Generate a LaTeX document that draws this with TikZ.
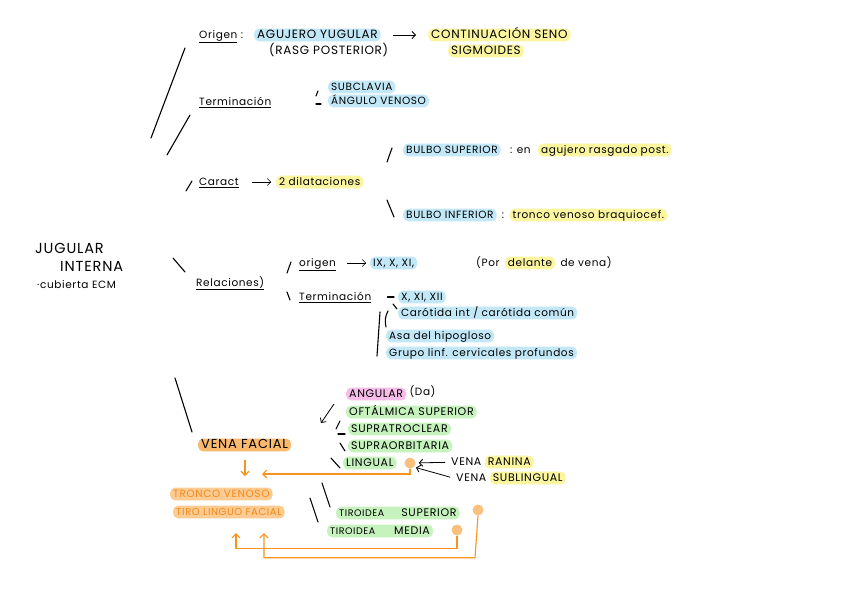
\documentclass[tikz,border=0pt]{standalone}
\usepackage{fontspec}
\setmainfont{Poppins}[LetterSpace=6]
\usetikzlibrary{arrows.meta,positioning,calc}
\definecolor{cblue}{HTML}{C2E8F8}
\definecolor{cyel}{HTML}{FBF5A0}
\definecolor{cgreen}{HTML}{C6F3BD}
\definecolor{cpink}{HTML}{F7BDEA}
\definecolor{corange}{HTML}{F9B96E}
\definecolor{clight}{HTML}{FCCB92}
\definecolor{ctext}{HTML}{F28A1E}
\definecolor{cline}{HTML}{F7941D}
\definecolor{cdot}{HTML}{F9C07E}
\tikzset{
  lbl/.style={inner xsep=3pt,inner ysep=1.2pt,anchor=west,text height=1.55ex,text depth=.35ex,font=\fontsize{10.5}{12}\selectfont},
  bigtxt/.style={lbl,font=\fontsize{12}{14}\selectfont},
  midtxt/.style={lbl,font=\fontsize{11}{13}\selectfont},
  hl/.style={fill=#1,rounded corners=5pt},
  stroke/.style={line width=1.1pt,line cap=round},
  oline/.style={draw=cline,line width=1.1pt,-{Straight Barb[length=4pt,width=8pt]}},
  odot/.style={circle,fill=cdot,minimum size=11pt,inner sep=0pt},
  >={Straight Barb[length=3.5pt,width=7pt]}
}
\begin{document}
\begin{tikzpicture}[x=1pt,y=-1pt,node distance=4pt]
  \fill[white] (0,0) rectangle (848,599);
  \useasboundingbox (0,0) rectangle (848,599);
  % title
  \node[lbl,font=\fontsize{14.5}{16}\selectfont] (jug1) at (32,250) {JUGULAR};
  \node[lbl,font=\fontsize{14.5}{16}\selectfont] (jug2) at (57,268) {INTERNA};
  \node[lbl] (ecm) at (34,285) {·cubierta ECM};
  % big strokes
  \draw[stroke] (185,48) -- (151,138);
  \draw[stroke] (190,115) -- (167,155);
  \draw[stroke] (173,258) -- (185,272);
  \draw[stroke] (175,378) -- (192,432);
  % origen
  \node[lbl] (origen) at (196,35) {\underline{Origen} :};
  \node[bigtxt,hl=cblue] (aguj) at (254,35) {AGUJERO YUGULAR};
  \node[bigtxt] (rasg) at (266,51) {(RASG POSTERIOR)};
  \node[bigtxt,hl=cyel] (seno) at (428,35) {CONTINUACIÓN SENO};
  \node[bigtxt,hl=cyel] (sigm) at (448,51) {SIGMOIDES};
  \draw[->,thick,shorten <=12pt,shorten >=12pt] (aguj) -- (seno);
  % terminacion
  \node[lbl] (term) at (196,102) {\underline{Terminación}};
  \node[lbl,hl=cblue] (subc) at (328,87) {SUBCLAVIA};
  \node[lbl,hl=cblue] (angv) at (328,101) {ÁNGULO VENOSO};
  \draw[stroke] (318,91) -- (316,96);
  \draw[stroke] (316,104) -- (321,104);
  % caract
  \draw[stroke] (192,181) -- (186,191);
  \node[lbl] (caract) at (196,182) {\underline{Caract}};
  \node[lbl,hl=cyel] (dilat) at (276,182) {2 dilataciones};
  \draw[->,shorten <=10pt,shorten >=5pt] (caract) -- (dilat);
  \draw[stroke] (392,148) -- (387,162);
  \node[lbl,hl=cblue] (bsup) at (403,150) {BULBO SUPERIOR};
  \node[lbl,right=6pt of bsup] (bsupc) {: en};
  \node[lbl,hl=cyel,right=4pt of bsupc] (bsupr) {agujero rasgado post.};
  \draw[stroke] (387,200) -- (394,217);
  \node[lbl,hl=cblue] (binf) at (403,215) {BULBO INFERIOR};
  \node[lbl,right=2pt of binf] (binfc) {:};
  \node[lbl,hl=cyel,right=2pt of binfc] (binfr) {tronco venoso braquiocef.};
  % relaciones
  \node[lbl] (relac) at (193,283) {\underline{Relaciones)}};
  \draw[stroke] (291,262) -- (287,273);
  \node[lbl] (rorig) at (296,263) {\underline{origen}};
  \node[lbl,hl=cblue] (pares) at (370,263) {IX, X, XI,};
  \draw[->,shorten <=8pt,shorten >=4pt] (rorig) -- (pares);
  \node[lbl] (por) at (473,263) {(Por};
  \node[lbl,hl=cyel,right=2pt of por] (delante) {delante};
  \node[lbl,right=2pt of delante] (devena) {de vena)};
  \draw[stroke] (287,292) -- (290,300);
  \node[lbl] (rterm) at (296,297) {\underline{Terminación}};
  \node[lbl,hl=cblue] (pares2) at (398,297) {X, XI, XII};
  \draw[stroke,shorten <=13pt,shorten >=4pt] (rterm) -- (pares2);
  \draw[stroke] (393,304) -- (397,309);
  \draw[stroke] (388,311) to[bend right=20] (386,327);
  \draw[stroke] (380,312) -- (377,356);
  \node[lbl,hl=cblue] (carot) at (398,313) {Carótida int / carótida común};
  \node[lbl,hl=cblue] (asa) at (386,336) {Asa del hipogloso};
  \node[lbl,hl=cblue] (grupo) at (386,353) {Grupo linf. cervicales profundos};
  % vena facial
  \node[lbl,hl=corange,font=\fontsize{13}{15}\selectfont] (facial) at (198,445) {VENA FACIAL};
  \node[midtxt,hl=cpink] (angular) at (346,394) {ANGULAR};
  \node[lbl,right=0pt of angular,yshift=2pt] (da) {(Da)};
  \node[midtxt,hl=cgreen] (oftal) at (346,412) {OFTÁLMICA SUPERIOR};
  \node[midtxt,hl=cgreen] (supratr) at (348,429) {SUPRATROCLEAR};
  \node[midtxt,hl=cgreen] (supraorb) at (348,446) {SUPRAORBITARIA};
  \node[midtxt,hl=cgreen] (lingual) at (343,463) {LINGUAL};
  \draw[->,thick] ($(oftal.west)+(-12,-8)$) -- ++(-13,19);
  \draw[stroke] (340,421) -- (336,429);
  \draw[stroke] (338,434) -- (345,434);
  \draw[stroke] (340,443) -- (345,451);
  \draw[stroke] (331,458) -- (340,468);
  \node[odot] (dotl) at (410,463) {};
  \node[midtxt] (vena1) at (448,462) {VENA};
  \node[midtxt,hl=cyel,right=0pt of vena1] (ranina) {RANINA};
  \node[midtxt] (vena2) at (453,478) {VENA};
  \node[midtxt,hl=cyel,right=0pt of vena2] (subl) {SUBLINGUAL};
  \draw[->,thick,shorten <=3pt,shorten >=3pt] (vena1) -- (dotl);
  \draw[->,thick,shorten <=3pt,shorten >=2pt] (vena2.west) -- (dotl.south east);
  % tronco
  \node[lbl,hl=clight,text=ctext] (tronco) at (170,494) {TRONCO VENOSO};
  \node[lbl,hl=clight,text=ctext,font=\fontsize{10}{12}\selectfont] (tirol) at (173,512) {TIRO LINGUO FACIAL};
  \draw[stroke] (322,483) -- (330,507);
  \draw[stroke] (310,498) -- (318,522);
  \node[lbl,hl=cgreen,font=\fontsize{9.5}{11}\selectfont] (tsup) at (336,513) {TIROIDEA\hspace{1.8em}{\fontsize{11}{13}\selectfont SUPERIOR}};
  \node[odot] (dots) at (478,510) {};
  \node[lbl,hl=cgreen,font=\fontsize{9.5}{11}\selectfont] (tmed) at (327,531) {TIROIDEA\hspace{2em}{\fontsize{11}{13}\selectfont MEDIA}};
  \node[odot] (dotm) at (457,530) {};
  % orange connectors
  \coordinate (facdn) at (245,476);
  \coordinate (facin) at (262,474);
  \coordinate (tin1) at (236,533);
  \coordinate (tin2) at (264,533);
  \draw[oline,shorten <=8pt] (facial.south -| facdn) -- (facdn);
  \draw[oline] (dotl.south) |- (facin);
  \draw[oline] (dotm.south) -- ++(0,13) -| (tin1);
  \draw[oline] (dots.south) -- ++(-3,42) -| (tin2);
\end{tikzpicture}
\end{document}
